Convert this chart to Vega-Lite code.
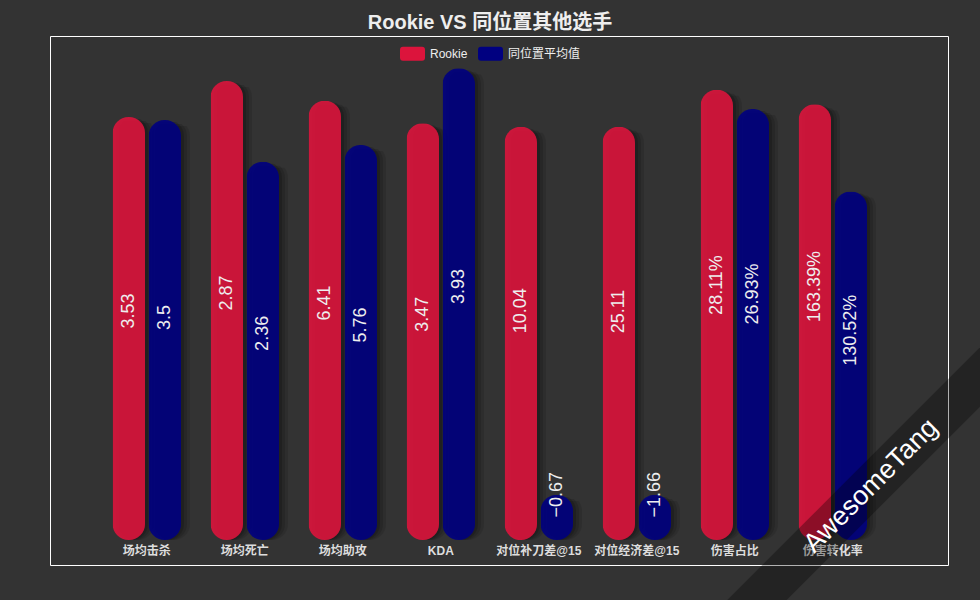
{
  "$schema": "https://vega.github.io/schema/vega-lite/v6.json",
  "width": 898,
  "height": 529,
  "autosize": {"type": "none"},
  "padding": {"left": 50, "top": 36, "right": 32, "bottom": 35},
  "background": "#333333",
  "config": {
    "font": "Liberation Sans, 'Noto Sans CJK SC', sans-serif",
    "view": {"stroke": "#ffffff", "strokeWidth": 1}
  },
  "title": {
    "text": "Rookie VS 同位置其他选手",
    "fontSize": 20,
    "fontWeight": "bold",
    "color": "#eeeeee",
    "anchor": "middle",
    "dx": -9,
    "offset": -13,
    "baseline": "alphabetic"
  },
  "data": {
    "values": [
      {"cat": "场均击杀", "series": "Rookie", "norm": 88.1, "label": "3.53"},
      {"cat": "场均死亡", "series": "Rookie", "norm": 95.6, "label": "2.87"},
      {"cat": "场均助攻", "series": "Rookie", "norm": 91.5, "label": "6.41"},
      {"cat": "KDA", "series": "Rookie", "norm": 86.8, "label": "3.47"},
      {"cat": "对位补刀差@15", "series": "Rookie", "norm": 86.1, "label": "10.04"},
      {"cat": "对位经济差@15", "series": "Rookie", "norm": 86.1, "label": "25.11"},
      {"cat": "伤害占比", "series": "Rookie", "norm": 93.8, "label": "28.11%"},
      {"cat": "伤害转化率", "series": "Rookie", "norm": 90.8, "label": "163.39%"},
      {"cat": "场均击杀", "series": "同位置平均值", "norm": 87.5, "label": "3.5"},
      {"cat": "场均死亡", "series": "同位置平均值", "norm": 78.8, "label": "2.36"},
      {"cat": "场均助攻", "series": "同位置平均值", "norm": 82.3, "label": "5.76"},
      {"cat": "KDA", "series": "同位置平均值", "norm": 98.3, "label": "3.93"},
      {"cat": "对位补刀差@15", "series": "同位置平均值", "norm": 9.4, "label": "−0.67"},
      {"cat": "对位经济差@15", "series": "同位置平均值", "norm": 9.4, "label": "−1.66"},
      {"cat": "伤害占比", "series": "同位置平均值", "norm": 89.8, "label": "26.93%"},
      {"cat": "伤害转化率", "series": "同位置平均值", "norm": 72.6, "label": "130.52%"}
    ]
  },
  "layer": [
    {
      "encoding": {
        "x": {
          "field": "cat",
          "type": "nominal",
          "sort": ["场均击杀", "场均死亡", "场均助攻", "KDA", "对位补刀差@15", "对位经济差@15", "伤害占比", "伤害转化率"],
          "scale": {"type": "band", "range": [47.8, 831.8], "paddingInner": 0, "paddingOuter": 0},
          "axis": {
            "title": null,
            "labelAngle": 0,
            "labelColor": "#dddddd",
            "labelFontSize": 12,
            "labelFontWeight": "bold",
            "ticks": false,
            "domain": false,
            "grid": false,
            "labelPadding": 5,
            "offset": -25
          }
        }
      },
      "layer": [
        {
          "encoding": {
            "y": {"field": "norm", "type": "quantitative", "scale": {"domain": [0, 100], "range": [504, 24], "nice": false}, "axis": null}
          },
          "layer": [
            {"transform": [{"filter": "datum.series === 'Rookie'"}], "mark": {"type": "bar", "width": 32.5, "xOffset": -15, "yOffset": 2, "y2Offset": 2, "cornerRadius": 16, "color": "#000000", "opacity": 0.16}},
            {"transform": [{"filter": "datum.series === 'Rookie'"}], "mark": {"type": "bar", "width": 32.5, "xOffset": -12, "yOffset": 4, "y2Offset": 4, "cornerRadius": 16, "color": "#000000", "opacity": 0.13}},
            {"transform": [{"filter": "datum.series === 'Rookie'"}], "mark": {"type": "bar", "width": 32.5, "xOffset": -9, "yOffset": 6, "y2Offset": 6, "cornerRadius": 16, "color": "#000000", "opacity": 0.1}},
            {"transform": [{"filter": "datum.series === '同位置平均值'"}], "mark": {"type": "bar", "width": 32.5, "xOffset": 21, "yOffset": 2, "y2Offset": 2, "cornerRadius": 16, "color": "#000000", "opacity": 0.16}},
            {"transform": [{"filter": "datum.series === '同位置平均值'"}], "mark": {"type": "bar", "width": 32.5, "xOffset": 24, "yOffset": 4, "y2Offset": 4, "cornerRadius": 16, "color": "#000000", "opacity": 0.13}},
            {"transform": [{"filter": "datum.series === '同位置平均值'"}], "mark": {"type": "bar", "width": 32.5, "xOffset": 27, "yOffset": 6, "y2Offset": 6, "cornerRadius": 16, "color": "#000000", "opacity": 0.1}},
            {
              "transform": [{"filter": "datum.series === 'Rookie'"}],
              "mark": {"type": "bar", "width": 32.5, "xOffset": -18, "cornerRadius": 16, "fillOpacity": 0.9},
              "encoding": {
                "color": {
                  "field": "series",
                  "type": "nominal",
                  "scale": {"domain": ["Rookie", "同位置平均值"], "range": ["#DC143C", "#000080"]},
                  "legend": {
                    "title": null,
                    "orient": "none",
                    "legendX": 350,
                    "legendY": 5,
                    "direction": "horizontal",
                    "padding": 0,
                    "symbolType": "M-0.76,-0.56L0.76,-0.56Q1,-0.56 1,-0.32L1,0.32Q1,0.56 0.76,0.56L-0.76,0.56Q-1,0.56 -1,0.32L-1,-0.32Q-1,-0.56 -0.76,-0.56Z",
                    "symbolSize": 625,
                    "symbolStrokeWidth": 0,
                    "symbolOpacity": 1,
                    "labelColor": "#eeeeee",
                    "labelFontSize": 12,
                    "labelOffset": 5,
                    "columnPadding": 10
                  }
                }
              }
            },
            {
              "transform": [{"filter": "datum.series === '同位置平均值'"}],
              "mark": {"type": "bar", "width": 32.5, "xOffset": 18, "cornerRadius": 16, "fillOpacity": 0.9},
              "encoding": {
                "color": {"field": "series", "type": "nominal"}
              }
            }
          ]
        },
        {
          "encoding": {
            "y": {"field": "norm", "type": "quantitative", "scale": {"domain": [0, 200], "range": [504, 24], "nice": false}, "axis": null},
            "text": {"field": "label", "type": "nominal"}
          },
          "layer": [
            {"transform": [{"filter": "datum.series === 'Rookie'"}], "mark": {"type": "text", "angle": 270, "align": "left", "baseline": "middle", "fontSize": 18, "color": "#eeeeee", "xOffset": -18}},
            {"transform": [{"filter": "datum.series === '同位置平均值'"}], "mark": {"type": "text", "angle": 270, "align": "left", "baseline": "middle", "fontSize": 18, "color": "#eeeeee", "xOffset": 18}}
          ]
        }
      ],
      "resolve": {"scale": {"y": "independent"}}
    },
    {
      "data": {"values": [{}]},
      "layer": [
        {
          "mark": {"type": "rule", "strokeWidth": 42, "color": "#000000", "opacity": 0.3, "strokeCap": "butt"},
          "encoding": {
            "x": {"datum": 111.36, "type": "quantitative", "scale": {"domain": [0, 100], "nice": false}, "axis": null},
            "x2": {"datum": 72.38},
            "y": {"datum": 48.77, "type": "quantitative", "scale": {"domain": [0, 100], "nice": false}, "axis": null},
            "y2": {"datum": -17.39}
          }
        },
        {
          "mark": {"type": "text", "text": "AwesomeTang", "angle": 315, "fontSize": 27, "fontWeight": "normal", "color": "#ffffff", "align": "center", "baseline": "middle"},
          "encoding": {
            "x": {"datum": 91.43, "type": "quantitative", "scale": {"domain": [0, 100], "nice": false}, "axis": null},
            "y": {"datum": 14.93, "type": "quantitative", "scale": {"domain": [0, 100], "nice": false}, "axis": null}
          }
        }
      ]
    }
  ],
  "resolve": {"scale": {"x": "independent", "y": "independent"}}
}
